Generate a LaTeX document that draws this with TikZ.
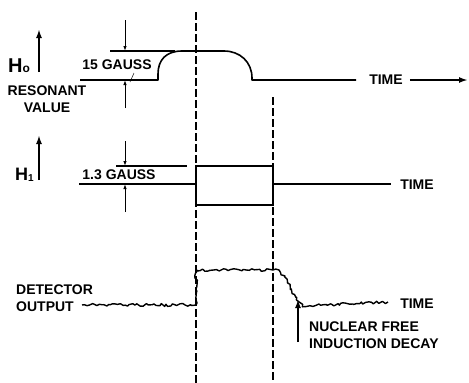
\documentclass[tikz,border=0pt]{standalone}
\usepackage{fontspec}
\setmainfont{Liberation Sans}
\usetikzlibrary{arrows.meta,decorations.pathmorphing}
\begin{document}
\begin{tikzpicture}[x=1pt,y=-1pt,
 trace/.style={line width=1.6pt},
 thin line/.style={line width=1.1pt},
 vline/.style={line width=1.1pt, dash pattern=on 8pt off 3pt},
 lbl/.style={font=\fontsize{14}{15}\selectfont\bfseries, inner sep=0pt},
 lblr/.style={font=\fontsize{14}{17}\selectfont\bfseries, inner sep=0pt, align=left},
 dim/.style={line width=0.9pt, -{Latex[length=5pt,width=3.5pt]}},
 bigarrow/.style={line width=1.8pt, -{Latex[length=9pt,width=6pt]}},
 noise/.style={decorate, decoration={random steps, segment length=2.4pt, amplitude=1.4pt}, line width=1.4pt, line join=round}
]
\pgfmathsetseed{7}
\useasboundingbox (0,0) rectangle (469,383);

% dashed time markers
\coordinate (d1t) at (196,12);  \coordinate (d1b) at (196,383);
\coordinate (d2t) at (273,97);  \coordinate (d2b) at (273,383);
\draw[vline] (d1t) -- (d1b);
\draw[vline] (d2t) -- (d2b);

% ---------- H0 row ----------
\coordinate (h0a) at (80,80);
\coordinate (h0b) at (356,80);
\draw[trace, line join=round] (h0a) -- (158,80) -- (158,74)
   .. controls (158,60) and (166,51) .. (182,51) -- (224,51)
   .. controls (240,51) and (252,62) .. (252,78) -- (252,80) -- (h0b);
\node[lbl] (time0) at (386,80) {TIME};
\coordinate (t0end) at (468,80);
\draw[bigarrow] ([xshift=7pt]time0.east) -- (t0end);

\coordinate (e0a) at (110,51); \coordinate (e0b) at (175,51);
\draw[thin line] (e0a) -- (e0b);
\coordinate (a0t) at (125,20); \coordinate (a0tt) at (125,51);
\coordinate (a0b) at (125,108); \coordinate (a0bt) at (125,80);
\draw[dim] (a0t) -- (a0tt);
\draw[dim] (a0b) -- (a0bt);
\node[lbl] (g15) at (117,65) {15 GAUSS};
\coordinate (ld1) at (134,73); \coordinate (ld2) at (130,82);
\draw[line width=0.5pt] (ld1) -- (ld2);

\node[lbl, anchor=base west] (H0) at (8,72) {{\fontsize{20}{20}\selectfont H}{\fontsize{12}{12}\selectfont o}};
\coordinate (ar0a) at (39,72); \coordinate (ar0b) at (39,29);
\draw[bigarrow] (ar0a) -- (ar0b);
\node[lbl, align=center, font=\fontsize{14}{17}\selectfont\bfseries] (res) at (47,99) {RESONANT\\VALUE};

% ---------- H1 row ----------
\coordinate (h1a) at (79,184);
\coordinate (h1b) at (391,184);
\coordinate (bx1) at (196,166); \coordinate (bx2) at (273,205);
\draw[trace] (h1a) -- (196,184);
\draw[trace] (bx1) rectangle (bx2);
\draw[trace] (273,184) -- (h1b);
\node[lbl] (time1) at (417,185) {TIME};

\coordinate (e1a) at (116,166); \coordinate (e1b) at (187,166);
\draw[thin line] (e1a) -- (e1b);
\coordinate (a1t) at (125,141); \coordinate (a1tt) at (125,166);
\coordinate (a1b) at (125,212); \coordinate (a1bt) at (125,184);
\draw[dim] (a1t) -- (a1tt);
\draw[dim] (a1b) -- (a1bt);
\node[lbl] (g13) at (119,175) {1.3 GAUSS};

\node[lbl, anchor=base west, font=\fontsize{18}{18}\selectfont\bfseries] (H1) at (15,180) {H\raisebox{-1.5pt}{\fontsize{10}{10}\selectfont 1}};
\coordinate (ar1a) at (39,180); \coordinate (ar1b) at (39,135);
\draw[bigarrow] (ar1a) -- (ar1b);

% ---------- detector row ----------
\node[lblr, anchor=west] (det) at (16,298) {DETECTOR\\OUTPUT};
\coordinate (n0) at (82,305);
\coordinate (n1) at (196,305);
\coordinate (n2) at (196,270);
\coordinate (n3) at (273,270);
\coordinate (n4) at (306,306);
\coordinate (n5) at (388,302);
\draw[noise] (n0) -- (n1) -- (n2) -- (n3)
   .. controls (288,270) and (294,306) .. (n4) -- (n5);
\node[lblr] (time2) at (417,304) {TIME};

\coordinate (ar2a) at (298,342); \coordinate (ar2b) at (298,299);
\draw[bigarrow] (ar2a) -- (ar2b);
\node[lblr, anchor=north west] (nfid) at (309,322) {NUCLEAR FREE\\INDUCTION DECAY};
\end{tikzpicture}
\end{document}
